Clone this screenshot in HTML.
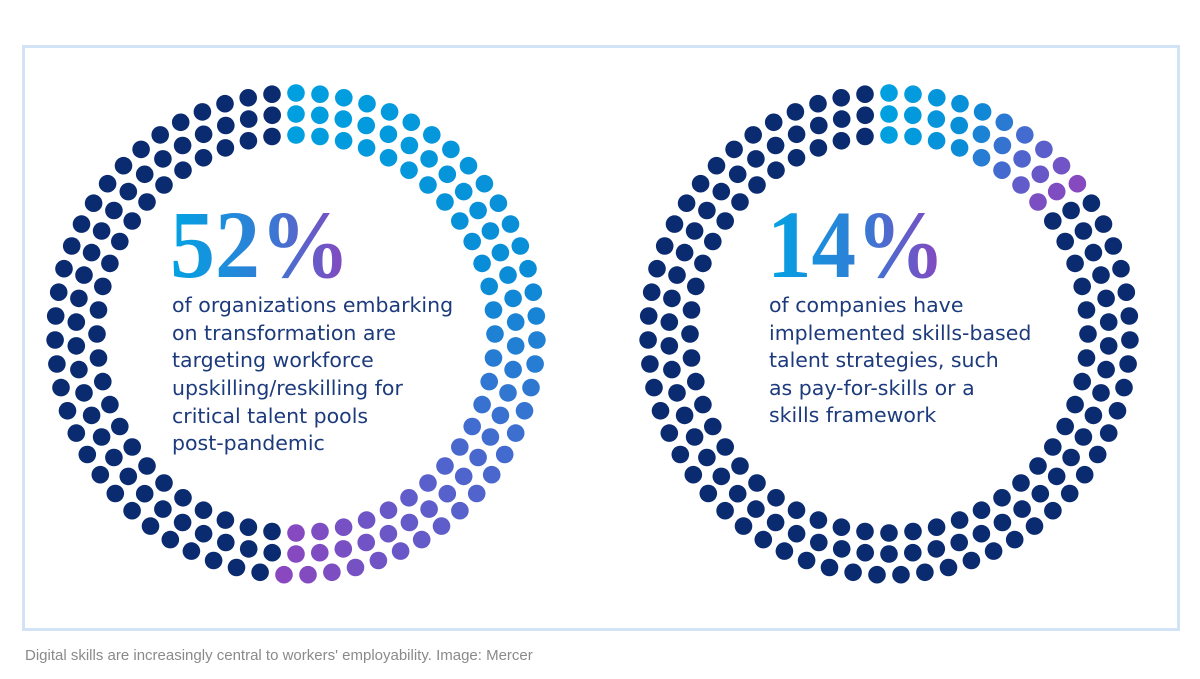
<!DOCTYPE html>
<html><head><meta charset="utf-8"><style>
html,body{margin:0;padding:0;background:#fff;width:1200px;height:679px;overflow:hidden}
.frame{position:absolute;left:22px;top:45px;width:1152px;height:580px;border:3px solid #d3e3f6}
.cap{position:absolute;left:25px;top:647px;font:15px "Liberation Sans",sans-serif;color:#8a8a8a}
</style></head><body>
<div class="frame"></div>
<svg id="s" width="1200" height="679" style="position:absolute;left:0;top:0">
<defs>
<linearGradient id="g" x1="0" x2="1" y1="0" y2="0">
<stop offset="0" stop-color="#00a3e3"/><stop offset="0.5" stop-color="#2f7fd6"/><stop offset="1" stop-color="#8a45bf"/>
</linearGradient>
</defs>
<text x="170" y="277" font-family="Liberation Serif,serif" font-weight="bold" font-size="96" fill="url(#g)" textLength="180" lengthAdjust="spacingAndGlyphs">52%</text>
<text x="767" y="277" font-family="Liberation Serif,serif" font-weight="bold" font-size="96" fill="url(#g)" textLength="178" lengthAdjust="spacingAndGlyphs">14%</text>
<g font-family="DejaVu Sans,Liberation Sans,sans-serif" font-size="20.5" fill="#1d3b7c">
<text x="172" y="312">of organizations embarking</text>
<text x="172" y="340">on transformation are</text>
<text x="172" y="367">targeting workforce</text>
<text x="172" y="395">upskilling/reskilling for</text>
<text x="172" y="423">critical talent pools</text>
<text x="172" y="450">post-pandemic</text>
<text x="769" y="312">of companies have</text>
<text x="769" y="340">implemented skills-based</text>
<text x="769" y="367">talent strategies, such</text>
<text x="769" y="395">as pay-for-skills or a</text>
<text x="769" y="422">skills framework</text>
</g>
</svg>
<div class="cap">Digital skills are increasingly central to workers' employability. Image: Mercer</div>
<script>
var s=document.getElementById('s');
function lerp(a,b,t){return Math.round(a+(b-a)*t)}
var stops=[[0,[0,160,224]],[0.4,[10,140,215]],[0.7,[80,100,205]],[1,[140,70,190]]];
function col(t){t=Math.max(0,Math.min(1,t));for(var i=1;i<stops.length;i++){if(t<=stops[i][0]){var a=stops[i-1],b=stops[i],u=(t-a[0])/(b[0]-a[0]);return 'rgb('+lerp(a[1][0],b[1][0],u)+','+lerp(a[1][1],b[1][1],u)+','+lerp(a[1][2],b[1][2],u)+')'}}return 'rgb(140,70,190)'}
function ring(cx,cy,E){var h='';[241,220,199].forEach(function(r){var n=Math.round(2*Math.PI*r/24);
for(var k=0;k<n;k++){var a=k*2*Math.PI/n,deg=a*180/Math.PI;var c=deg<E?col(deg/E):'#0b2b70';
h+='<circle cx="'+(cx+r*Math.sin(a)).toFixed(1)+'" cy="'+(cy-r*Math.cos(a)).toFixed(1)+'" r="8.8" fill="'+c+'"/>'}});
s.insertAdjacentHTML('beforeend',h)}
ring(296,334,186);ring(889,334,53);
</script>
</body></html>
